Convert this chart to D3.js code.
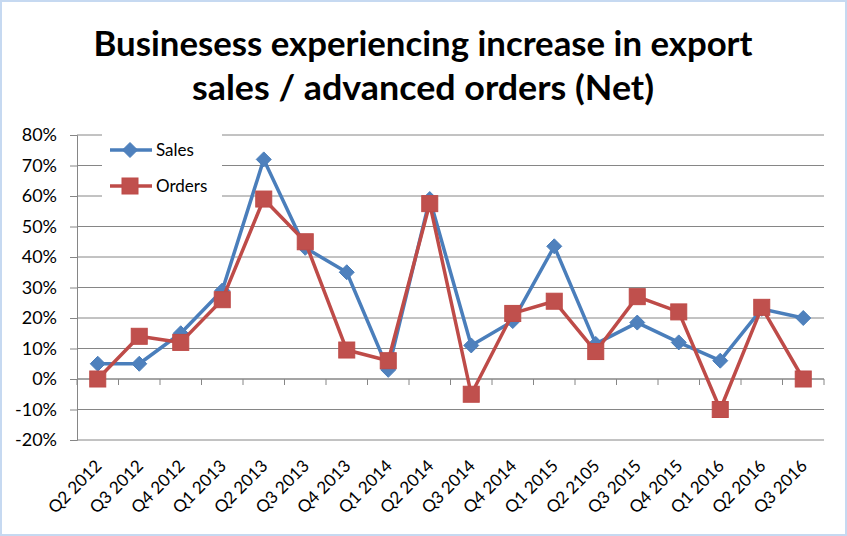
<!DOCTYPE html>
<html>
<head>
<meta charset="utf-8">
<script src="https://cdn.jsdelivr.net/npm/d3@7/dist/d3.min.js"></script>
<style>
  html, body { margin: 0; padding: 0; background: #fff; }
  svg { display: block; }
  text { font-family: Lato, "Open Sans", sans-serif; }
</style>
</head>
<body>
<svg id="chart" width="847" height="536"></svg>
<script>
const categories = ["Q2 2012","Q3 2012","Q4 2012","Q1 2013","Q2 2013","Q3 2013","Q4 2013","Q1 2014","Q2 2014","Q3 2014","Q4 2014","Q1 2015","Q2 2105","Q3 2015","Q4 2015","Q1 2016","Q2 2016","Q3 2016"];
const sales  = [5, 5, 15, 29, 72, 43, 35, 3, 59, 11, 19, 43.5, 11.5, 18.5, 12, 6, 23, 20];
const orders = [0, 14, 12, 26, 59, 45, 9.5, 6, 57.5, -5, 21.5, 25.5, 9, 27, 22, -10, 23.5, 0];
const yTicks = [-20, -10, 0, 10, 20, 30, 40, 50, 60, 70, 80];
const seriesNames = ["Sales", "Orders"];
const titleLines = ["Businesess experiencing increase in export", "sales / advanced orders (Net)"];

const svg = d3.select("#chart");
const W = 847, H = 536;
const pLeft = 77, pRight = 824, pTop = 135, pBottom = 440;

// outer border
svg.append("rect").attr("x", 1).attr("y", 1).attr("width", W - 2).attr("height", H - 2)
  .attr("fill", "#fff").attr("stroke", "#C6D9F1").attr("stroke-width", 2);

const x = d3.scaleBand().domain(categories).range([pLeft, pRight]);
const y = d3.scaleLinear().domain([-20, 80]).range([pBottom, pTop]);

// gridlines
svg.append("g").selectAll("line").data(yTicks).join("line")
  .attr("x1", pLeft).attr("x2", pRight)
  .attr("y1", d => y(d)).attr("y2", d => y(d))
  .attr("stroke", "#868686").attr("stroke-width", 1);

// y axis
const yAxis = d3.axisLeft(y).tickValues(yTicks).tickSize(7).tickPadding(13)
  .tickFormat(d => d + "%");
const gy = svg.append("g").attr("transform", `translate(${pLeft},0)`).call(yAxis);
gy.select(".domain").attr("stroke", "#868686");
gy.selectAll(".tick line").attr("stroke", "#868686");
gy.selectAll("text").attr("font-size", 18).attr("fill", "#000")
  .style("font-family", "Lato, 'Open Sans', sans-serif");

// x axis at 0
const gx = svg.append("g").attr("transform", `translate(0,${y(0)})`);
gx.append("line").attr("x1", pLeft).attr("x2", pRight).attr("y1", 0).attr("y2", 0).attr("stroke", "#868686");
const boundaries = categories.map(c => x(c)).concat([pRight]);
gx.selectAll("line.tk").data(boundaries).join("line").attr("class", "tk")
  .attr("x1", d => d).attr("x2", d => d).attr("y1", 0).attr("y2", 6).attr("stroke", "#868686");

// x labels
svg.append("g").selectAll("text").data(categories).join("text")
  .attr("transform", d => `translate(${x(d) + x.bandwidth() / 2 + 5},${pBottom + 27}) rotate(-45)`)
  .attr("text-anchor", "end")
  .attr("font-size", 17)
  .attr("fill", "#000")
  .text(d => d);

const cx = (d, i) => x(categories[i]) + x.bandwidth() / 2;
const line = d3.line().x((d, i) => cx(d, i)).y(d => y(d));

const colors = { Sales: { fill: "#4F81BD", stroke: "#4A7EBB" }, Orders: { fill: "#C0504D", stroke: "#BE4B48" } };

function drawSeries(data, name) {
  const c = colors[name];
  svg.append("path").datum(data).attr("d", line)
    .attr("fill", "none").attr("stroke", c.stroke).attr("stroke-width", 3.5)
    .attr("stroke-linejoin", "round");
}
function drawMarkers(data, name) {
  const c = colors[name];
  const g = svg.append("g");
  if (name === "Sales") {
    g.selectAll("path").data(data).join("path")
      .attr("d", (d, i) => { const px = cx(d, i), py = y(d), r = 7.5; return `M${px},${py - r}L${px + r},${py}L${px},${py + r}L${px - r},${py}Z`; })
      .attr("fill", c.fill).attr("stroke", c.stroke).attr("stroke-width", 1);
  } else {
    g.selectAll("rect").data(data).join("rect")
      .attr("x", (d, i) => cx(d, i) - 8).attr("y", d => y(d) - 8)
      .attr("width", 16).attr("height", 16)
      .attr("fill", c.fill).attr("stroke", c.stroke).attr("stroke-width", 1);
  }
}
drawSeries(sales, "Sales");
drawMarkers(sales, "Sales");
drawSeries(orders, "Orders");
drawMarkers(orders, "Orders");

// legend
const lg = svg.append("g");
lg.append("rect").attr("x", 102).attr("y", 129).attr("width", 120).attr("height", 69).attr("fill", "#fff");
seriesNames.forEach((name, i) => {
  const ly = 150 + i * 36, c = colors[name];
  lg.append("line").attr("x1", 110).attr("x2", 152).attr("y1", ly).attr("y2", ly)
    .attr("stroke", c.stroke).attr("stroke-width", 3.5);
  if (name === "Sales") {
    const r = 7.5;
    lg.append("path").attr("d", `M130,${ly - r}L${130 + r},${ly}L130,${ly + r}L${130 - r},${ly}Z`)
      .attr("fill", c.fill).attr("stroke", c.stroke);
  } else {
    lg.append("rect").attr("x", 122).attr("y", ly - 8).attr("width", 16).attr("height", 16)
      .attr("fill", c.fill).attr("stroke", c.stroke);
  }
  lg.append("text").attr("x", 156).attr("y", ly + 6).attr("font-size", 17).attr("fill", "#000").text(name);
});

// title
const tw = [659, 462];
titleLines.forEach((t, i) => {
  svg.append("text").attr("x", 423).attr("y", 56 + i * 44)
    .attr("text-anchor", "middle").attr("font-size", 34).attr("font-weight", "bold")
    .attr("fill", "#000")
    .attr("textLength", tw[i]).attr("lengthAdjust", "spacingAndGlyphs")
    .text(t);
});
</script>
</body>
</html>
